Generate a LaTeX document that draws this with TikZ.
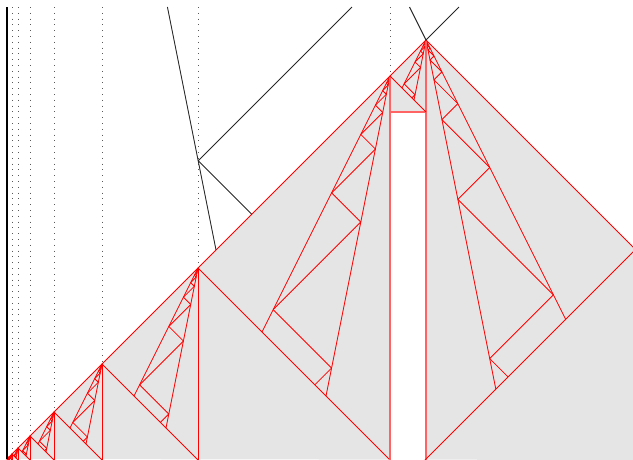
\documentclass[tikz,border=0pt]{standalone}
\definecolor{bg}{HTML}{E5E5E5}
\definecolor{pinkred}{HTML}{FF6464}
\tikzset{
  redline/.style={red,line width=0.85pt},
  pinkline/.style={pinkred,line width=1.4pt},
  blk/.style={black!85,line width=0.9pt},
  dotline/.style={black!65,line width=0.8pt,dash pattern=on 0.8pt off 5pt},
}
\newcommand\fanzz[4]{%
  \draw[redline] (#1,#2) -- ({#1+(#4)*128*#3},{#2+256*#3});
  \draw[redline] (#1,#2) -- ({#1+(#4)*64*#3},{#2+320*#3});
  \draw[redline] ({#1+(#4)*58.4*#3},{#2+292*#3}) -- ({#1+(#4)*75.2*#3},{#2+308.8*#3});
  \foreach \k in {0,...,9}{
    \pgfmathsetmacro\ff{#3/2^\k}
    \draw[redline] ({#1+(#4)*116.8*\ff},{#2+233.6*\ff}) -- ({#1+(#4)*58.4*\ff},{#2+292*\ff});
    \draw[redline] ({#1+(#4)*29.2*\ff},{#2+146*\ff}) -- ({#1+(#4)*116.8*\ff},{#2+233.6*\ff});
  }%
}
\begin{document}
\begin{tikzpicture}[x=1pt,y=-1pt]
\useasboundingbox (0,0) rectangle (633,459);
\clip (0,0) rectangle (633,459);
% grey region
\fill[bg] (7,459) -- (426,40) -- (640,254) -- (640,460) -- cycle;
\fill[white] (390,112) rectangle (426,461);
% dotted verticals
\foreach \x in {12,18,30,54,102,198,390}
  \draw[dotline] (\x,7) -- (\x,{466-\x});
% fans on the left diagonal
\foreach \j in {0,...,8}{
  \pgfmathsetmacro\xa{6+384/2^\j}
  \pgfmathsetmacro\ya{466-\xa}
  \pgfmathsetmacro\sa{1/2^\j}
  \fanzz{\xa}{\ya}{\sa}{-1}
}
% verticals and down-right diagonals of the small apices
\foreach \j in {1,...,8}{
  \pgfmathsetmacro\xa{6+384/2^\j}
  \pgfmathsetmacro\ya{466-\xa}
  \draw[redline] (\xa,\ya) -- (\xa,460);
  \draw[redline] (\xa,\ya) -- ({2*\xa-6},460);
}
% top apex
\coordinate (A) at (426,40);
\coordinate (B) at (390,76);
\coordinate (C) at (635.5,249.5);
\fanzz{426}{40}{0.1875}{-1}
\fanzz{426}{40}{1.0911}{1}
\draw[pinkline] (B) -- (390,460);
\draw[pinkline] (A) -- (426,460);
\draw[pinkline] (390,112) -- (426,112);
\draw[redline] (B) -- (426,112);
\draw[redline] (7,459) -- (A);
\draw[redline] (A) -- (C) -- (425,460);
% black signals
\draw[black,line width=1.5pt] (7,7) -- (7,459);
\coordinate (M) at (198.2,160.8);
\draw[blk] (167.44,7) -- (M) -- (216.03,249.97);
\draw[blk] (M) -- (352,7);
\draw[blk] (M) -- (251.7,214.3);
\draw[blk] (409.5,7) -- (A) -- (459,7);
\end{tikzpicture}
\end{document}
